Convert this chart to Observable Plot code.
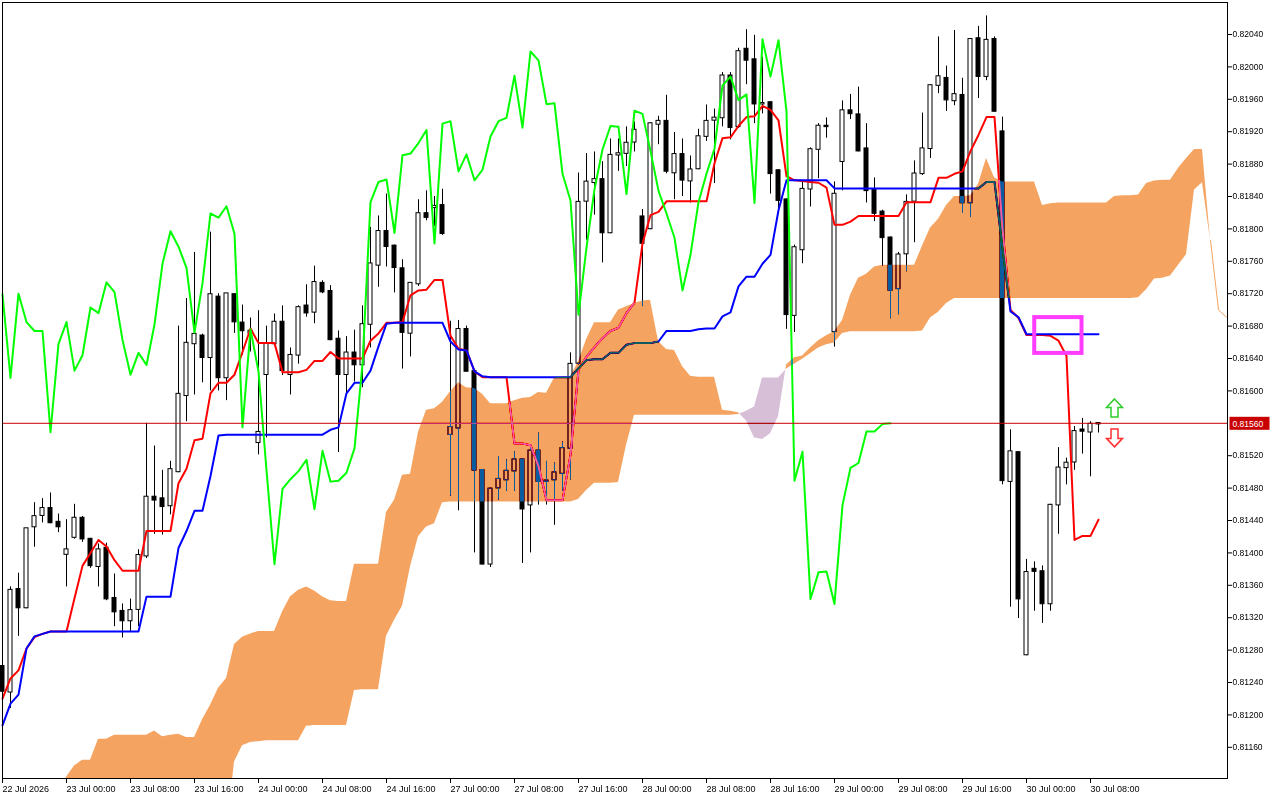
<!DOCTYPE html>
<html>
<head>
<meta charset="utf-8">
<script src="https://cdn.jsdelivr.net/npm/d3@7"></script>
<script src="https://cdn.jsdelivr.net/npm/@observablehq/plot@0.6"></script>
<style>
html,body{margin:0;padding:0;background:#ffffff;}
#chart{width:1280px;height:800px;overflow:hidden;}
</style>
</head>
<body>
<div id="chart"></div>
<script>
// ---- Data (H1 bars, index 0 = 22 Jul 2026 16:00) ----
const xTickBars = [0, 8, 16, 24, 32, 40, 48, 56, 64, 72, 80, 88, 96, 104, 112, 120, 128, 136];
const xTickLabels = ["22 Jul 2026", "23 Jul 00:00", "23 Jul 08:00", "23 Jul 16:00", "24 Jul 00:00", "24 Jul 08:00",
  "24 Jul 16:00", "27 Jul 00:00", "27 Jul 08:00", "27 Jul 16:00", "28 Jul 00:00", "28 Jul 08:00",
  "28 Jul 16:00", "29 Jul 00:00", "29 Jul 08:00", "29 Jul 16:00", "30 Jul 00:00", "30 Jul 08:00"];
const yTickValues = [0.8204, 0.8200, 0.8196, 0.8192, 0.8188, 0.8184, 0.8180, 0.8176, 0.8172, 0.8168, 0.8164, 0.8160,
  0.8152, 0.8148, 0.8144, 0.8140, 0.8136, 0.8132, 0.8128, 0.8124, 0.8120, 0.8116];

const open = [
0.81260,0.81228,0.81355,0.81332,0.81432,0.81446,0.81455,0.81438,0.81398,0.81419,
0.81443,0.81417,0.81383,0.81406,0.81344,0.81328,0.81316,0.81330,0.81396,0.81469,
0.81467,0.81458,0.81500,0.81594,0.81658,0.81668,0.81641,0.81716,0.81616,0.81719,
0.81684,0.81671,0.81536,0.81620,0.81658,0.81685,0.81620,0.81644,0.81705,0.81697,
0.81733,0.81723,0.81664,0.81620,0.81647,0.81632,0.81682,0.81755,0.81797,0.81779,
0.81751,0.81671,0.81732,0.81819,0.81826,0.81829,0.81546,0.81554,0.81676,0.81624,
0.81502,0.81386,0.81480,0.81490,0.81501,0.81515,0.81459,0.81526,0.81488,0.81490,
0.81498,0.81529,0.81634,0.81834,0.81857,0.81861,0.81795,0.81891,0.81893,0.81907,
0.81815,0.81800,0.81929,0.81933,0.81869,0.81892,0.81859,0.81874,0.81914,0.81934,
0.81937,0.81989,0.81926,0.82022,0.82009,0.81954,0.81956,0.81872,0.81836,0.81693,
0.81774,0.81849,0.81898,0.81927,0.81673,0.81883,0.81946,0.81941,0.81899,0.81848,
0.81821,0.81789,0.81726,0.81769,0.81834,0.81868,0.81899,0.81977,0.81986,0.81958,
0.81965,0.81832,0.82035,0.81988,0.82034,0.81920,0.81488,0.81524,0.81274,0.81380,
0.81377,0.81337,0.81459,0.81505,0.81512,0.81552,0.81549,0.81559];

const high = [
0.81268,0.81358,0.81375,0.81430,0.81462,0.81467,0.81474,0.81448,0.81441,0.81460,
0.81445,0.81418,0.81411,0.81412,0.81374,0.81337,0.81343,0.81404,0.81560,0.81532,
0.81502,0.81513,0.81680,0.81714,0.81771,0.81670,0.81796,0.81720,0.81720,0.81720,
0.81706,0.81690,0.81699,0.81680,0.81695,0.81705,0.81653,0.81705,0.81731,0.81754,
0.81736,0.81730,0.81674,0.81667,0.81675,0.81705,0.81802,0.81816,0.81843,0.81780,
0.81762,0.81733,0.81836,0.81847,0.81840,0.81849,0.81686,0.81687,0.81680,0.81625,
0.81503,0.81480,0.81519,0.81515,0.81525,0.81516,0.81531,0.81548,0.81513,0.81511,
0.81537,0.81647,0.81869,0.81893,0.81895,0.81883,0.81911,0.81911,0.81926,0.81932,
0.81824,0.81931,0.81939,0.81965,0.81919,0.81911,0.81890,0.81923,0.81953,0.81948,
0.81993,0.81993,0.82023,0.82046,0.82039,0.82012,0.81957,0.81873,0.81837,0.81780,
0.81858,0.81900,0.81930,0.81937,0.81858,0.81958,0.81966,0.81975,0.81930,0.81863,
0.81823,0.81790,0.81771,0.81842,0.81884,0.81943,0.81978,0.82037,0.82001,0.82045,
0.81986,0.82035,0.82050,0.82063,0.82037,0.81938,0.81552,0.81525,0.81392,0.81389,
0.81384,0.81460,0.81530,0.81517,0.81556,0.81566,0.81562,0.81561];

const low = [
0.81218,0.81208,0.81297,0.81331,0.81407,0.81437,0.81436,0.81425,0.81358,0.81417,
0.81413,0.81381,0.81358,0.81341,0.81309,0.81295,0.81303,0.81309,0.81393,0.81423,
0.81422,0.81447,0.81499,0.81562,0.81595,0.81610,0.81600,0.81600,0.81588,0.81671,
0.81644,0.81648,0.81521,0.81542,0.81657,0.81619,0.81595,0.81633,0.81691,0.81683,
0.81720,0.81662,0.81524,0.81597,0.81611,0.81604,0.81653,0.81728,0.81753,0.81721,
0.81627,0.81642,0.81729,0.81810,0.81803,0.81792,0.81470,0.81452,0.81624,0.81400,
0.81385,0.81382,0.81465,0.81476,0.81476,0.81387,0.81400,0.81459,0.81459,0.81434,
0.81476,0.81490,0.81632,0.81786,0.81817,0.81758,0.81794,0.81871,0.81877,0.81895,
0.81704,0.81799,0.81904,0.81868,0.81836,0.81840,0.81832,0.81873,0.81908,0.81856,
0.81926,0.81910,0.81924,0.81978,0.81930,0.81942,0.81843,0.81821,0.81676,0.81672,
0.81757,0.81827,0.81862,0.81912,0.81654,0.81847,0.81935,0.81895,0.81832,0.81809,
0.81754,0.81689,0.81694,0.81747,0.81783,0.81866,0.81887,0.81967,0.81945,0.81952,
0.81819,0.81814,0.81961,0.81983,0.81944,0.81484,0.81333,0.81319,0.81273,0.81328,
0.81313,0.81328,0.81423,0.81484,0.81502,0.81522,0.81494,0.81548];

const close = [
0.81229,0.81354,0.81332,0.81430,0.81445,0.81455,0.81437,0.81432,0.81404,0.81443,
0.81417,0.81384,0.81404,0.81343,0.81327,0.81316,0.81329,0.81397,0.81469,0.81465,
0.81457,0.81503,0.81596,0.81659,0.81670,0.81641,0.81719,0.81616,0.81720,0.81685,
0.81674,0.81674,0.81549,0.81658,0.81685,0.81625,0.81644,0.81703,0.81696,0.81734,
0.81722,0.81663,0.81620,0.81647,0.81632,0.81682,0.81757,0.81797,0.81778,0.81752,
0.81672,0.81733,0.81819,0.81814,0.81828,0.81794,0.81555,0.81676,0.81624,0.81502,
0.81386,0.81479,0.81491,0.81501,0.81515,0.81454,0.81526,0.81488,0.81489,0.81499,
0.81529,0.81633,0.81833,0.81858,0.81861,0.81795,0.81891,0.81893,0.81906,0.81922,
0.81782,0.81930,0.81933,0.81871,0.81892,0.81860,0.81873,0.81914,0.81933,0.81937,
0.81989,0.81925,0.82019,0.82008,0.81954,0.81955,0.81868,0.81835,0.81694,0.81777,
0.81849,0.81898,0.81927,0.81926,0.81843,0.81946,0.81942,0.81896,0.81847,0.81819,
0.81789,0.81724,0.81768,0.81833,0.81868,0.81899,0.81977,0.81988,0.81959,0.81966,
0.81832,0.82034,0.81988,0.82033,0.81945,0.81489,0.81525,0.81343,0.81376,0.81377,
0.81337,0.81459,0.81505,0.81511,0.81550,0.81550,0.81559,0.81560];

// Tenkan-sen (red)
const tenkan = [
0.81220,0.81245,0.81255,0.81282,0.81296,0.81300,0.81303,0.81303,0.81303,0.81344,
0.81384,0.81400,0.81416,0.81408,0.81391,0.81378,0.81378,0.81378,0.81427,0.81427,
0.81427,0.81427,0.81486,0.81504,0.81539,0.81541,0.81597,0.81610,0.81610,0.81620,
0.81648,0.81677,0.81659,0.81659,0.81659,0.81623,0.81623,0.81623,0.81626,0.81637,
0.81637,0.81648,0.81640,0.81640,0.81640,0.81640,0.81662,0.81671,0.81684,0.81684,
0.81685,0.81718,0.81724,0.81725,0.81737,0.81737,0.81668,0.81652,0.81650,0.81624,
0.81617,0.81617,0.81617,0.81617,0.81535,0.81535,0.81533,0.81507,0.81465,0.81465,
0.81465,0.81521,0.81626,0.81642,0.81654,0.81665,0.81674,0.81678,0.81696,0.81709,
0.81782,0.81817,0.81821,0.81834,0.81834,0.81834,0.81834,0.81834,0.81834,0.81881,
0.81912,0.81913,0.81927,0.81938,0.81939,0.81952,0.81947,0.81934,0.81865,0.81860,
0.81859,0.81858,0.81857,0.81851,0.81805,0.81805,0.81809,0.81816,0.81816,0.81816,
0.81816,0.81816,0.81816,0.81833,0.81833,0.81833,0.81833,0.81863,0.81863,0.81868,
0.81871,0.81896,0.81916,0.81938,0.81938,0.81799,0.81700,0.81690,0.81669,0.81669,
0.81669,0.81668,0.81662,0.81643,0.81416,0.81421,0.81421,0.81441];

// Kijun-sen (blue)
const kijun = [
0.81187,0.81214,0.81225,0.81282,0.81297,0.81300,0.81303,0.81303,0.81303,0.81303,
0.81303,0.81303,0.81303,0.81303,0.81303,0.81303,0.81303,0.81303,0.81346,0.81346,
0.81346,0.81346,0.81406,0.81427,0.81452,0.81452,0.81495,0.81545,0.81546,0.81546,
0.81546,0.81546,0.81546,0.81546,0.81546,0.81546,0.81546,0.81546,0.81546,0.81546,
0.81546,0.81552,0.81555,0.81597,0.81610,0.81610,0.81625,0.81655,0.81683,0.81684,
0.81684,0.81684,0.81684,0.81684,0.81684,0.81684,0.81661,0.81651,0.81650,0.81624,
0.81618,0.81617,0.81617,0.81617,0.81617,0.81617,0.81617,0.81617,0.81617,0.81617,
0.81617,0.81617,0.81628,0.81638,0.81639,0.81639,0.81647,0.81647,0.81657,0.81659,
0.81659,0.81659,0.81661,0.81674,0.81674,0.81674,0.81674,0.81676,0.81677,0.81677,
0.81692,0.81697,0.81729,0.81741,0.81741,0.81757,0.81768,0.81823,0.81860,0.81860,
0.81860,0.81860,0.81860,0.81860,0.81850,0.81850,0.81850,0.81850,0.81850,0.81850,
0.81850,0.81850,0.81850,0.81850,0.81850,0.81850,0.81850,0.81850,0.81850,0.81850,
0.81850,0.81850,0.81850,0.81858,0.81858,0.81776,0.81698,0.81691,0.81670,0.81670,
0.81670,0.81670,0.81670,0.81670,0.81670,0.81670,0.81670,0.81670];

// Chikou span (green), plotted 26 bars back
const chikou = [
0.81719,0.81616,0.81720,0.81685,0.81674,0.81674,0.81549,0.81658,0.81685,0.81625,
0.81644,0.81703,0.81696,0.81734,0.81722,0.81663,0.81620,0.81647,0.81632,0.81682,
0.81757,0.81797,0.81778,0.81752,0.81672,0.81733,0.81819,0.81814,0.81828,0.81794,
0.81555,0.81676,0.81624,0.81502,0.81386,0.81479,0.81491,0.81501,0.81515,0.81454,
0.81526,0.81488,0.81489,0.81499,0.81529,0.81633,0.81833,0.81858,0.81861,0.81795,
0.81891,0.81893,0.81906,0.81922,0.81782,0.81930,0.81933,0.81871,0.81892,0.81860,
0.81873,0.81914,0.81933,0.81937,0.81989,0.81925,0.82019,0.82008,0.81954,0.81955,
0.81868,0.81835,0.81694,0.81777,0.81849,0.81898,0.81927,0.81926,0.81843,0.81946,
0.81942,0.81896,0.81847,0.81819,0.81789,0.81724,0.81768,0.81833,0.81868,0.81899,
0.81977,0.81988,0.81959,0.81966,0.81832,0.82034,0.81988,0.82033,0.81945,0.81489,
0.81525,0.81343,0.81376,0.81377,0.81337,0.81459,0.81505,0.81511,0.81550,0.81550,
0.81559,0.81560];

// Senkou span A / B (shifted 26 bars forward, indices 0..153)
const spanA = [
0.81058,0.81064,0.81070,0.81076,0.81083,0.81089,0.81095,0.81100,0.81123,0.81137,
0.81144,0.81144,0.81170,0.81170,0.81175,0.81175,0.81175,0.81175,0.81175,0.81180,
0.81173,0.81175,0.81176,0.81172,0.81172,0.81194,0.81212,0.81233,0.81245,0.81287,
0.81296,0.81300,0.81303,0.81303,0.81303,0.81327,0.81346,0.81354,0.81358,0.81353,
0.81346,0.81341,0.81340,0.81340,0.81386,0.81386,0.81386,0.81386,0.81450,0.81465,
0.81496,0.81497,0.81549,0.81576,0.81578,0.81586,0.81599,0.81610,0.81604,0.81603,
0.81596,0.81584,0.81584,0.81584,0.81588,0.81591,0.81592,0.81598,0.81597,0.81616,
0.81617,0.81617,0.81636,0.81663,0.81684,0.81684,0.81684,0.81700,0.81704,0.81708,
0.81711,0.81712,0.81661,0.81651,0.81650,0.81630,0.81618,0.81617,0.81617,0.81617,
0.81576,0.81575,0.81573,0.81563,0.81542,0.81540,0.81547,0.81568,0.81632,0.81641,
0.81643,0.81653,0.81662,0.81668,0.81673,0.81687,0.81718,0.81739,0.81744,0.81753,
0.81755,0.81755,0.81755,0.81755,0.81755,0.81779,0.81801,0.81812,0.81829,0.81840,
0.81840,0.81841,0.81855,0.81887,0.81863,0.81858,0.81858,0.81858,0.81858,0.81858,
0.81829,0.81831,0.81832,0.81832,0.81832,0.81832,0.81832,0.81832,0.81832,0.81840,
0.81841,0.81841,0.81842,0.81856,0.81859,0.81860,0.81860,0.81875,0.81887,0.81898,
0.81898,0.81786,0.81700,0.81691];

const spanB = [
0.81050,0.81050,0.81050,0.81050,0.81050,0.81050,0.81050,0.81050,0.81050,0.81050,
0.81050,0.81050,0.81050,0.81050,0.81050,0.81050,0.81050,0.81050,0.81050,0.81050,
0.81050,0.81050,0.81050,0.81050,0.81050,0.81050,0.81050,0.81050,0.81050,0.81142,
0.81162,0.81166,0.81167,0.81168,0.81168,0.81168,0.81168,0.81168,0.81186,0.81187,
0.81187,0.81187,0.81187,0.81187,0.81230,0.81231,0.81231,0.81231,0.81297,0.81317,
0.81334,0.81383,0.81420,0.81432,0.81436,0.81462,0.81463,0.81463,0.81463,0.81463,
0.81463,0.81463,0.81463,0.81463,0.81463,0.81463,0.81463,0.81463,0.81463,0.81463,
0.81463,0.81463,0.81466,0.81477,0.81486,0.81486,0.81486,0.81487,0.81533,0.81570,
0.81570,0.81570,0.81570,0.81570,0.81570,0.81570,0.81570,0.81570,0.81570,0.81570,
0.81570,0.81570,0.81571,0.81575,0.81580,0.81616,0.81616,0.81616,0.81627,0.81633,
0.81639,0.81646,0.81653,0.81657,0.81659,0.81671,0.81673,0.81673,0.81673,0.81673,
0.81673,0.81673,0.81673,0.81673,0.81673,0.81674,0.81690,0.81697,0.81708,0.81714,
0.81714,0.81714,0.81714,0.81714,0.81714,0.81714,0.81714,0.81714,0.81714,0.81714,
0.81714,0.81714,0.81714,0.81714,0.81714,0.81714,0.81714,0.81714,0.81714,0.81714,
0.81714,0.81714,0.81715,0.81725,0.81738,0.81739,0.81742,0.81755,0.81768,0.81848,
0.81857,0.81786,0.81700,0.81691];

// Annotations
const bidPrice = 0.81560;
const signalBox = [{x1: 129.03, x2: 134.94, y1: 0.816463, y2: 0.816905}];
const arrows = [{bar: 139, price: 0.81579, dir: "up"}, {bar: 139, price: 0.81542, dir: "down"}];

// ---- Build tables ----
const candles = open.map((o, i) => ({i, o, h: high[i], l: low[i], c: close[i]}));
const tenkanPts = tenkan.map((v, i) => ({i, v}));
const kijunPts = kijun.map((v, i) => ({i, v}));
const chikouPts = chikou.map((v, i) => ({i, v}));
const cloudPts = spanA.map((a, i) => ({i, a, b: spanB[i]}));

// split the cloud into bullish (A>=B) and bearish (B>A) pieces, cutting at crossings
const bullPts = [], bearPts = [];
let seg = 0;
for (let k = 0; k < cloudPts.length; k++) {
  const p = cloudPts[k], up = p.a >= p.b;
  (up ? bullPts : bearPts).push({x: p.i, a: p.a, b: p.b, seg});
  if (k + 1 < cloudPts.length) {
    const q = cloudPts[k + 1], up2 = q.a >= q.b;
    if (up !== up2) {
      const d1 = p.a - p.b, d2 = q.a - q.b, t = d1 / (d1 - d2);
      const cx = p.i + t, cy = p.a + t * (q.a - p.a);
      (up ? bullPts : bearPts).push({x: cx, a: cy, b: cy, seg});
      seg++;
      (up2 ? bullPts : bearPts).push({x: cx, a: cy, b: cy, seg});
    }
  }
}
const flatSpan = cloudPts.filter(d => d.a === d.b && d.i > 140);
const labelOf = new Map(xTickBars.map((b, k) => [b, xTickLabels[k]]));

// hollow arrow glyphs (local shape only, placed by the dot mark)
const arrowUp = {draw(ctx) {
  ctx.moveTo(0, -9); ctx.lineTo(8, -0.5); ctx.lineTo(3.5, -0.5); ctx.lineTo(3.5, 9);
  ctx.lineTo(-3.5, 9); ctx.lineTo(-3.5, -0.5); ctx.lineTo(-8, -0.5); ctx.closePath();
}};
const arrowDown = {draw(ctx) {
  ctx.moveTo(0, 9); ctx.lineTo(8, 0.5); ctx.lineTo(3.5, 0.5); ctx.lineTo(3.5, -9);
  ctx.lineTo(-3.5, -9); ctx.lineTo(-3.5, 0.5); ctx.lineTo(-8, 0.5); ctx.closePath();
}};

const plot = Plot.plot({
  width: 1280,
  height: 800,
  marginLeft: 2,
  marginRight: 53,
  marginTop: 2,
  marginBottom: 22,
  x: {domain: [0, 153.125], axis: null},
  y: {domain: [0.811215, 0.820795], axis: null},
  style: {background: "#ffffff", color: "#000000", fontFamily: "'Liberation Sans', Arial, sans-serif", fontSize: "9px", overflow: "visible"},
  marks: [
    Plot.frame({fill: "#ffffff"}),
    Plot.ruleX(candles, {x: "i", y1: "l", y2: "h", stroke: "#000000", strokeWidth: 1}),
    Plot.rect(candles, {
      x1: d => d.i - 0.25, x2: d => d.i + 0.25, y1: "o", y2: "c",
      fill: d => (d.c >= d.o ? "#ffffff" : "#000000"), stroke: "#000000", strokeWidth: 1,
      insetTop: -0.3, insetBottom: -0.3
    }),
    Plot.line(tenkanPts, {x: "i", y: "v", stroke: "#ff0000", strokeWidth: 2}),
    Plot.line(kijunPts, {x: "i", y: "v", stroke: "#0000ff", strokeWidth: 2}),
    Plot.line(chikouPts, {x: "i", y: "v", stroke: "#00ff00", strokeWidth: 2}),
    Plot.ruleY([bidPrice], {stroke: "#c80000", strokeWidth: 1}),
    Plot.areaY(bullPts, {x: "x", y1: "a", y2: "b", z: "seg", fill: "#0b5b9f", curve: "linear", clip: true, mixBlendMode: "difference"}),
    Plot.areaY(bearPts, {x: "x", y1: "a", y2: "b", z: "seg", fill: "#274027", curve: "linear", clip: true, mixBlendMode: "difference"}),
    Plot.line(flatSpan, {x: "i", y: "a", stroke: "#f4a460", strokeWidth: 1, clip: true}),
    Plot.frame({stroke: "#000000"}),
    Plot.axisY(yTickValues, {anchor: "right", tickSize: 4, tickPadding: 1, tickFormat: d => d.toFixed(5), fontSize: 8.5, label: null}),
    Plot.axisX(xTickBars, {anchor: "bottom", tickSize: 5, tickPadding: 2, tickFormat: d => labelOf.get(d), textAnchor: "start", fontSize: 9, label: null}),
    Plot.rect(signalBox, {x1: "x1", x2: "x2", y1: "y1", y2: "y2", fill: "none", stroke: "#ff3cff", strokeWidth: 4}),
    Plot.dot(arrows.filter(d => d.dir === "up"), {x: "bar", y: "price", symbol: arrowUp, fill: "#ffffff", stroke: "#2ecc2e", strokeWidth: 1.5}),
    Plot.dot(arrows.filter(d => d.dir === "down"), {x: "bar", y: "price", symbol: arrowDown, fill: "#ffffff", stroke: "#ff3030", strokeWidth: 1.5})
  ]
});

// make the cloud blend like the terminal's XOR fill
plot.querySelectorAll('g[aria-label="area"]').forEach(g => { g.style.mixBlendMode = "difference"; });

// current price tag on the right scale
const yPix = plot.scale("y").apply(bidPrice) + 0.5;
const tag = d3.select(plot).append("g");
tag.append("rect").attr("x", 1229.5).attr("y", yPix - 6.5).attr("width", 40).attr("height", 13).attr("fill", "#c80000");
tag.append("text").attr("x", 1232.5).attr("y", yPix + 3.2).attr("fill", "#ffffff").attr("text-anchor", "start")
  .attr("font-size", "8.5px").attr("font-family", "'Liberation Sans', Arial, sans-serif").text(bidPrice.toFixed(5));

document.getElementById("chart").appendChild(plot);
</script>
</body>
</html>
